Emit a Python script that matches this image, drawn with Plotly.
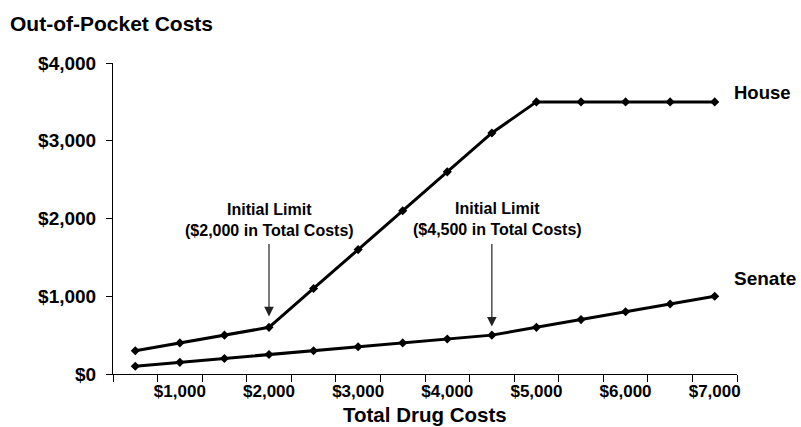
import plotly.graph_objects as go

# Total drug costs (category steps of $500)
total_costs = [500, 1000, 1500, 2000, 2500, 3000, 3500, 4000, 4500, 5000, 5500, 6000, 6500, 7000]
# Out-of-pocket costs under each bill
house = [300, 400, 500, 600, 1100, 1600, 2100, 2600, 3100, 3500, 3500, 3500, 3500, 3500]
senate = [100, 150, 200, 250, 300, 350, 400, 450, 500, 600, 700, 800, 900, 1000]

x_tick_vals = [1000, 2000, 3000, 4000, 5000, 6000, 7000]
x_tick_text = ["$1,000", "$2,000", "$3,000", "$4,000", "$5,000", "$6,000", "$7,000"]
y_tick_vals = [0, 1000, 2000, 3000, 4000]
y_tick_text = ["$0", "$1,000", "$2,000", "$3,000", "$4,000"]

FONT = "Liberation Sans, Arial, sans-serif"

fig = go.Figure()
for name, vals in [("House", house), ("Senate", senate)]:
    fig.add_trace(go.Scatter(
        x=total_costs, y=vals, name=name, mode="lines+markers",
        line=dict(color="black", width=3),
        marker=dict(symbol="diamond", size=7, color="black"),
        cliponaxis=False, showlegend=False,
    ))

annotations = []
# series labels at the line ends
annotations.append(dict(x=7190, y=3620, xref="x", yref="y", text="<b>House</b>",
                        showarrow=False, xanchor="left", yanchor="middle",
                        font=dict(family=FONT, size=18.5, color="black")))
annotations.append(dict(x=7190, y=1230, xref="x", yref="y", text="<b>Senate</b>",
                        showarrow=False, xanchor="left", yanchor="middle",
                        font=dict(family=FONT, size=19, color="black")))

# initial-limit callouts
for tx, ty, ax_x, tip_y, label in [
    (2000, 1975, 2000, 740, "$2,000 in Total Costs"),
    (4560, 1995, 4500, 610, "$4,500 in Total Costs"),
]:
    annotations.append(dict(x=tx, y=ty, xref="x", yref="y",
                            text="<b>Initial Limit</b><br><b>(" + label + ")</b>",
                            showarrow=False, xanchor="center", yanchor="middle",
                            font=dict(family=FONT, size=16, color="black")))
    annotations.append(dict(x=ax_x, y=tip_y, ax=ax_x, ay=1690, xref="x", yref="y",
                            axref="x", ayref="y", text="", showarrow=True,
                            arrowhead=2, arrowsize=1.6, arrowwidth=1.2,
                            arrowcolor="#222222"))

# axis title
annotations.append(dict(x=0.5, y=0, xref="paper", yref="paper",
                        yshift=-40, text="<b>Total Drug Costs</b>", showarrow=False,
                        xanchor="center", yanchor="middle",
                        font=dict(family=FONT, size=20.5, color="black")))

fig.update_layout(
    width=801, height=427,
    margin=dict(l=113, r=64, t=63, b=53),
    paper_bgcolor="white", plot_bgcolor="white",
    title=dict(text="<b>Out-of-Pocket Costs</b>", x=10 / 801, xanchor="left",
               xref="container", y=1 - 23.5 / 427, yanchor="middle", yref="container",
               font=dict(family=FONT, size=21, color="black")),
    xaxis=dict(range=[250, 7250], showgrid=False, zeroline=False,
               showline=True, linecolor="black", linewidth=1,
               tickmode="array", tickvals=x_tick_vals, ticktext=x_tick_text,
               ticks="", ticklabelstandoff=2,
               tickfont=dict(family=FONT, size=17, color="black", weight="bold"),
               minor=dict(tick0=250, dtick=500, ticks="outside", ticklen=7,
                          tickcolor="black", tickwidth=1, showgrid=False)),
    yaxis=dict(range=[0, 4000], showgrid=False, zeroline=False,
               showline=True, linecolor="black", linewidth=1,
               tickmode="array", tickvals=y_tick_vals, ticktext=y_tick_text,
               ticks="outside", ticklen=6, tickcolor="black",
               ticklabelstandoff=6,
               tickfont=dict(family=FONT, size=19, color="black", weight="bold")),
    annotations=annotations,
)

fig.write_html("out.html")
